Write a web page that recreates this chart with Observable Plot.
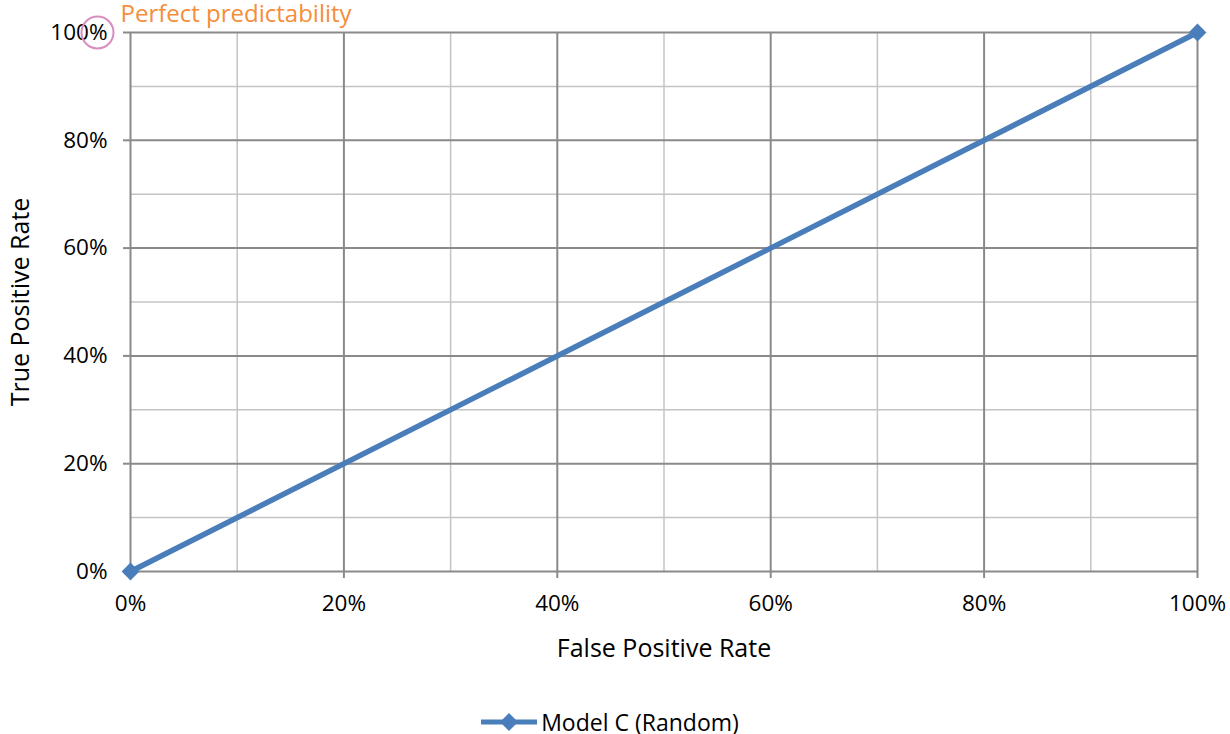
<!DOCTYPE html>
<html>
<head>
<meta charset="utf-8">
<script src="https://cdn.jsdelivr.net/npm/d3@7"></script>
<script src="https://cdn.jsdelivr.net/npm/@observablehq/plot@0.6"></script>
<style>
  body { margin: 0; background: #fff; font-family: "Open Sans", sans-serif; }
  #chart { position: relative; width: 1230px; }
  .legend { display: flex; align-items: center; justify-content: center; height: 44px; font-size: 23px; color: #000; margin-left: -12px; margin-top: 10px; }
  .legend svg { margin-right: 2px; }
</style>
</head>
<body>
<div id="chart"></div>
<script>
// ROC curve of a random classifier
const seriesName = "Model C (Random)";
const falsePositiveRate = [0, 1];
const truePositiveRate = [0, 1];
const majorTicks = [0, 0.2, 0.4, 0.6, 0.8, 1];
const minorTicks = [0.1, 0.3, 0.5, 0.7, 0.9];
const annotationText = "Perfect predictability";

const points = falsePositiveRate.map((x, i) => ({x, y: truePositiveRate[i]}));
const pct = d3.format(".0%");
const blue = "#4a7ebb";
const fontSize = 22.5;

const chart = Plot.plot({
  width: 1230,
  height: 690,
  marginLeft: 130,
  marginRight: 33,
  marginTop: 32,
  marginBottom: 119,
  style: {fontFamily: "Open Sans, sans-serif", fontSize: fontSize + "px", color: "#000", overflow: "visible"},
  x: {domain: [0, 1]},
  y: {domain: [0, 1]},
  marks: [
    Plot.gridX(minorTicks, {stroke: "#c4c4c4", strokeOpacity: 1, strokeWidth: 1.5}),
    Plot.gridY(minorTicks, {stroke: "#c4c4c4", strokeOpacity: 1, strokeWidth: 1.5}),
    Plot.gridX(majorTicks, {stroke: "#8a8a8a", strokeOpacity: 1, strokeWidth: 2}),
    Plot.gridY(majorTicks, {stroke: "#8a8a8a", strokeOpacity: 1, strokeWidth: 2}),
    Plot.axisX(majorTicks, {tickFormat: pct, tickSize: 7, tickPadding: 17, stroke: "#8a8a8a", strokeWidth: 2, fontSize, label: null}),
    Plot.axisY(majorTicks, {tickFormat: pct, tickSize: 7, tickPadding: 16, stroke: "#8a8a8a", strokeWidth: 2, fontSize, label: null}),
    Plot.text(["False Positive Rate"], {frameAnchor: "bottom", dy: 85, fontSize: 25, fill: "#000"}),
    Plot.text(["True Positive Rate"], {frameAnchor: "left", textAnchor: "middle", dx: -110, rotate: -90, fontSize: 25, fill: "#000"}),
    Plot.line(points, {x: "x", y: "y", stroke: blue, strokeWidth: 5.5}),
    Plot.dot(points, {x: "x", y: "y", symbol: "diamond2", r: 8, fill: blue}),
    // annotation around the top of the y axis
    Plot.dot([{x: 0, y: 1}], {x: "x", y: "y", dx: -33, r: 16, stroke: "#d98cbf", strokeWidth: 2, fill: "none"}),
    Plot.text([annotationText], {x: 0, y: 1, dx: -10, dy: -18, textAnchor: "start", fill: "#f58d3a", fontSize: 24})
  ]
});
document.getElementById("chart").appendChild(chart);

// legend
const legend = document.createElement("div");
legend.className = "legend";
legend.innerHTML = `<svg width="60" height="22"><line x1="2" y1="11" x2="58" y2="11" stroke="${blue}" stroke-width="5"/><path d="M30,2 L39,11 L30,20 L21,11Z" fill="${blue}"/></svg><span>${seriesName}</span>`;
document.getElementById("chart").appendChild(legend);
</script>
</body>
</html>
